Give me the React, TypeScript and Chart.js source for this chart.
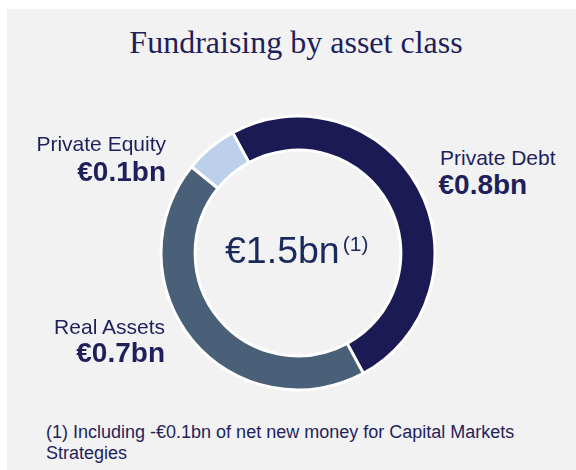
import React, { useEffect, useRef } from "react";
import { Chart, registerables } from "chart.js";

Chart.register(...registerables);

const categories = ["Private Debt", "Real Assets", "Private Equity"];
const values = [0.8, 0.7, 0.1];
const valueLabels = ["€0.8bn", "€0.7bn", "€0.1bn"];
const colors = ["#1b1a54", "#4a5f78", "#bcd0ec"];
const totalLabel = "€1.5bn";
const totalNote = "(1)";
const title = "Fundraising by asset class";
const footnote = "(1) Including -€0.1bn of net new money for Capital Markets Strategies";

const NAVY = "#1f1f5c";
const SANS = "'Liberation Sans', Arial, sans-serif";
const SERIF = "'Liberation Serif', 'Times New Roman', serif";

function Txt(props: {
  text: string;
  size: number;
  baseline: number;
  x: number;
  align: "left" | "right" | "center";
  bold?: boolean;
  serif?: boolean;
  color?: string;
}) {
  const k = props.serif ? 0.8375 : 0.8465;
  const top = props.baseline - k * props.size;
  const style: React.CSSProperties = {
    position: "absolute",
    top,
    fontFamily: props.serif ? SERIF : SANS,
    fontSize: props.size,
    lineHeight: `${props.size}px`,
    fontWeight: props.bold ? 700 : 400,
    color: props.color || NAVY,
    whiteSpace: "nowrap",
  };
  if (props.align === "left") style.left = props.x;
  else if (props.align === "right") style.right = 576 - props.x;
  else {
    style.left = props.x - 300;
    style.width = 600;
    style.textAlign = "center";
  }
  return <div style={style}>{props.text}</div>;
}

export default function App() {
  const ref = useRef<HTMLCanvasElement | null>(null);

  useEffect(() => {
    if (!ref.current) return;
    const chart = new Chart(ref.current, {
      type: "doughnut",
      data: {
        labels: categories,
        datasets: [
          {
            data: values,
            backgroundColor: colors,
            borderColor: "#ffffff",
            borderWidth: 3,
            hoverOffset: 0,
          },
        ],
      },
      options: {
        responsive: false,
        animation: false,
        rotation: -28.5,
        radius: 137,
        cutout: 104,
        layout: { padding: 0 },
        plugins: {
          legend: { display: false },
          tooltip: { enabled: false },
          title: { display: false },
        },
      },
    });
    return () => chart.destroy();
  }, []);

  return (
    <div
      style={{
        position: "absolute",
        left: 0,
        top: 0,
        width: 576,
        height: 470,
        background: "#ffffff",
        overflow: "hidden",
      }}
    >
      <div
        style={{
          position: "absolute",
          left: 7,
          top: 9,
          width: 569,
          height: 461,
          background: "#f2f2f2",
        }}
      />
      <Txt text={title} size={32} baseline={53} x={296} align="center" serif color={NAVY} />
      <canvas
        ref={ref}
        width={280}
        height={280}
        style={{ position: "absolute", left: 158, top: 113, width: 280, height: 280 }}
      />
      <div
        style={{
          position: "absolute",
          left: 225,
          top: 264 - 0.8465 * 37.5,
          fontFamily: SANS,
          fontSize: 37.5,
          lineHeight: "37.5px",
          color: "#1a2a5c",
          whiteSpace: "nowrap",
        }}
      >
        {totalLabel}
        <span style={{ fontSize: 21, position: "relative", top: -12, marginLeft: 3 }}>{totalNote}</span>
      </div>
      <Txt text={categories[2]} size={21} baseline={150.5} x={166} align="right" />
      <Txt text={valueLabels[2]} size={28} baseline={181.7} x={166} align="right" bold />
      <Txt text={categories[0]} size={21} baseline={165} x={440} align="left" />
      <Txt text={valueLabels[0]} size={28} baseline={195} x={438.5} align="left" bold />
      <Txt text={categories[1]} size={21} baseline={333.3} x={165} align="right" />
      <Txt text={valueLabels[1]} size={28} baseline={362.7} x={165} align="right" bold />
      <div
        style={{
          position: "absolute",
          left: 46,
          top: 421.6,
          width: 500,
          fontFamily: SANS,
          fontSize: 18,
          lineHeight: "21px",
          color: NAVY,
        }}
      >
        {footnote}
      </div>
    </div>
  );
}
